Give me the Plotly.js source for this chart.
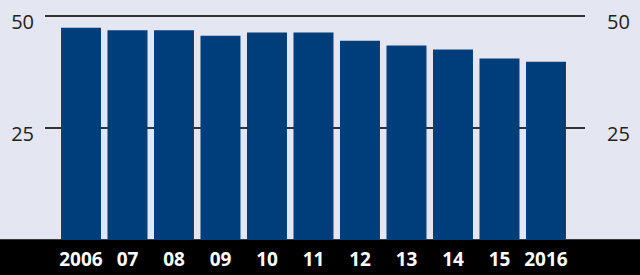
<!DOCTYPE html>
<html>
<head>
<meta charset="utf-8">
<script src="https://cdn.plot.ly/plotly-3.0.1.min.js"></script>
<style>html,body{margin:0;padding:0;background:#e4e6f2;}#chart{width:640px;height:275px;}</style>
</head>
<body>
<div id="chart"></div>
<script>
const categories = ["2006","07","08","09","10","11","12","13","14","15","2016"];
const values = [47.4, 46.8, 46.8, 45.6, 46.3, 46.3, 44.5, 43.4, 42.5, 40.5, 39.8];
const yTicks = [25, 50];
const yTickText = ["25", "50"];

const bg = "#e4e6f2";
const barColor = "#003e7b";
const yRange = [0, 53.57];

const data = [
  {type: "bar", x: categories, y: values, marker: {color: barColor}, hoverinfo: "skip", xaxis: "x", yaxis: "y"},
  {type: "scatter", mode: "markers", x: categories, y: values, opacity: 0, hoverinfo: "skip", xaxis: "x", yaxis: "y2", showlegend: false}
];

const layout = {
  width: 640, height: 275,
  margin: {l: 45, r: 55, t: 0, b: 35, pad: 0},
  paper_bgcolor: bg, plot_bgcolor: bg,
  showlegend: false,
  bargap: 0.14,
  font: {family: "Open Sans, sans-serif"},
  xaxis: {
    type: "category", range: [-0.774, 10.839],
    showgrid: false, zeroline: false, showline: false, ticks: "",
    tickfont: {family: "Open Sans, sans-serif", size: 19, color: "#ffffff", weight: "bold"},
    ticklabelstandoff: 6, fixedrange: true
  },
  yaxis: {
    range: yRange, tickvals: yTicks, ticktext: yTickText,
    showgrid: true, gridcolor: "#333333", gridwidth: 2,
    zeroline: false, showline: false, ticks: "",
    tickfont: {family: "Open Sans, sans-serif", size: 20, color: "#222222"},
    ticklabelstandoff: 10, ticklabelshift: 6, ticklabeloverflow: "allow", fixedrange: true
  },
  yaxis2: {
    overlaying: "y", side: "right", range: yRange, tickvals: yTicks, ticktext: yTickText,
    showgrid: false, zeroline: false, showline: false, ticks: "",
    tickfont: {family: "Open Sans, sans-serif", size: 20, color: "#222222"},
    ticklabelstandoff: 21, ticklabelshift: 6, ticklabeloverflow: "allow", fixedrange: true
  },
  shapes: [
    {type: "rect", xref: "paper", yref: "paper", x0: -0.2, x1: 1.2, y0: -0.3, y1: 0.003,
     fillcolor: "#000000", line: {width: 0}, layer: "below"}
  ]
};

Plotly.newPlot("chart", data, layout, {staticPlot: true, displayModeBar: false});
</script>
</body>
</html>
